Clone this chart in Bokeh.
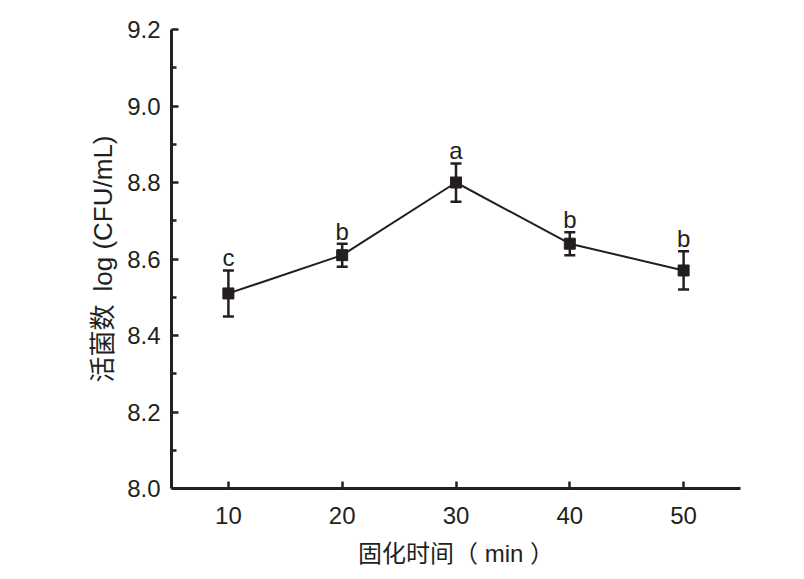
from bokeh.plotting import figure
from bokeh.models import Range1d, ColumnDataSource, Whisker, FixedTicker, TeeHead, CustomJSTickFormatter
from bokeh.embed import file_html
from bokeh.resources import INLINE
from bokeh.core.properties import value

times = [10, 20, 30, 40, 50]
counts = [8.51, 8.61, 8.80, 8.64, 8.57]
errors = [0.06, 0.03, 0.05, 0.03, 0.05]
letters = ["c", "b", "a", "b", "b"]
x_ticks = [10, 20, 30, 40, 50]
y_ticks = [8.0, 8.2, 8.4, 8.6, 8.8, 9.0, 9.2]

FONT = "Liberation Sans, Noto Sans CJK SC"
INK = "#231f20"

upper = [c + e for c, e in zip(counts, errors)]
lower = [c - e for c, e in zip(counts, errors)]
src = ColumnDataSource(dict(x=times, y=counts, upper=upper, lower=lower, lab=letters))

p = figure(width=804, height=579, output_backend="svg", toolbar_location=None,
           x_range=Range1d(5, 55), y_range=Range1d(8.0, 9.2),
           min_border_left=171, min_border_right=64, min_border_top=29, min_border_bottom=91)
p.outline_line_color = None
p.grid.visible = False
p.background_fill_color = "white"
p.border_fill_color = "white"

p.line("x", "y", source=src, line_color=INK, line_width=2)
w = Whisker(base="x", upper="upper", lower="lower", source=src,
            line_color=INK, line_width=2.5,
            upper_head=TeeHead(size=11, line_color=INK, line_width=2.5),
            lower_head=TeeHead(size=11, line_color=INK, line_width=2.5))
p.add_layout(w)
p.scatter("x", "y", source=src, marker="square", size=11, fill_color=INK, line_color=INK)
p.text("x", "upper", text="lab", source=src, text_align="center", text_baseline="bottom",
       y_offset=1, text_font=value("Liberation Sans"), text_font_size="24px", text_color=INK)

for ax in (p.xaxis[0], p.yaxis[0]):
    ax.axis_line_width = 3
    ax.axis_line_color = INK
    ax.major_tick_line_width = 2.5
    ax.major_tick_line_color = INK
    ax.major_tick_in = 7
    ax.major_tick_out = 0
    ax.major_label_text_font = FONT
    ax.major_label_text_font_size = "24px"
    ax.major_label_text_color = INK
    ax.axis_label_text_font = FONT
    ax.axis_label_text_font_style = "normal"
    ax.axis_label_text_color = INK

p.xaxis.ticker = FixedTicker(ticks=x_ticks)
p.xaxis.minor_tick_line_color = None
p.xaxis.major_label_standoff = 18
p.xaxis.axis_label = "固化时间（ min ）"
p.xaxis.axis_label_text_font_size = "24px"
p.xaxis.axis_label_standoff = 13

minor = [round(a + 0.1, 2) for a in y_ticks[:-1]]
p.yaxis.ticker = FixedTicker(ticks=y_ticks, minor_ticks=minor)
p.yaxis.minor_tick_in = 5
p.yaxis.minor_tick_out = 0
p.yaxis.minor_tick_line_width = 2.5
p.yaxis.minor_tick_line_color = INK
p.yaxis.major_label_standoff = 11
p.yaxis.formatter = CustomJSTickFormatter(code="return tick.toFixed(1);")
p.yaxis.axis_label = "活菌数\u2002log (CFU/mL)"
p.yaxis.axis_label_text_font_size = "26px"
p.yaxis.axis_label_standoff = 6

open("out.html", "w").write(file_html(p, INLINE))
